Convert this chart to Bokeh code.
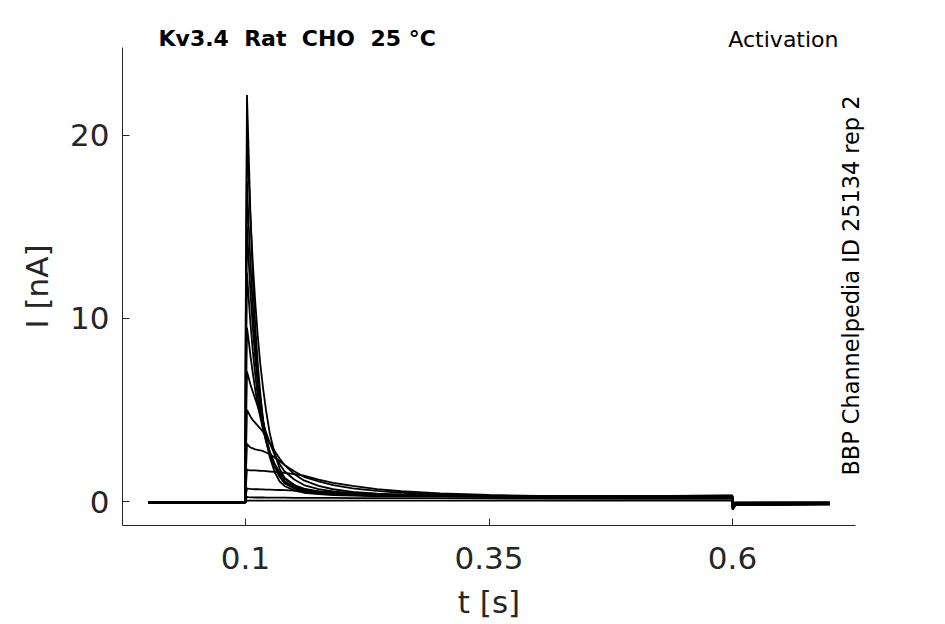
import math
from bokeh.plotting import figure
from bokeh.models import Label, Title
from bokeh.embed import file_html
from bokeh.resources import INLINE

# sample times (s)
T = [0.0, 0.0998, 0.1002, 0.1015, 0.103, 0.105, 0.1075, 0.110, 0.1125, 0.115,
     0.118, 0.121, 0.125, 0.13, 0.135, 0.14, 0.15, 0.16, 0.175, 0.19,
     0.21, 0.235, 0.26, 0.3, 0.35, 0.4, 0.5, 0.5998, 0.6002, 0.603, 0.7]

# current traces (nA)
I_01 = [-0.05, -0.05, 10.0, 22.2, 19.5, 15.8, 12.2, 9.6, 7.6, 6.0, 4.5, 3.4, 2.4, 1.6, 1.1, 0.85, 0.6, 0.48, 0.4, 0.35, 0.32, 0.3, 0.29, 0.28, 0.28, 0.28, 0.3, 0.33, -0.45, -0.2, -0.15]
I_02 = [-0.05, -0.05, 9.0, 20.0, 18.0, 15.6, 13.0, 10.9, 9.1, 7.6, 6.2, 5.0, 3.7, 2.6, 1.8, 1.3, 0.9, 0.65, 0.5, 0.42, 0.36, 0.33, 0.31, 0.3, 0.29, 0.29, 0.3, 0.32, -0.42, -0.2, -0.15]
I_03 = [-0.05, -0.05, 8.0, 17.5, 15.4, 13.1, 10.6, 8.6, 7.0, 5.7, 4.4, 3.45, 2.5, 1.9, 1.35, 1.0, 0.7, 0.55, 0.45, 0.4, 0.35, 0.32, 0.3, 0.29, 0.28, 0.28, 0.29, 0.31, -0.4, -0.2, -0.15]
I_04 = [-0.05, -0.05, 7.0, 15.0, 13.4, 11.5, 9.5, 7.8, 6.4, 5.3, 4.4, 3.6, 2.7, 2.0, 1.45, 1.08, 0.75, 0.58, 0.47, 0.41, 0.36, 0.33, 0.31, 0.29, 0.28, 0.27, 0.28, 0.3, -0.38, -0.18, -0.13]
I_05 = [-0.05, -0.05, 5.5, 12.5, 11.3, 9.8, 8.2, 6.9, 5.8, 4.9, 4.0, 3.3, 2.55, 1.9, 1.45, 1.1, 0.8, 0.62, 0.5, 0.43, 0.37, 0.33, 0.31, 0.29, 0.27, 0.27, 0.27, 0.29, -0.35, -0.17, -0.12]
I_06 = [-0.05, -0.05, 4.0, 9.5, 8.9, 8.0, 7.0, 6.1, 5.3, 4.65, 3.95, 3.35, 2.7, 2.05, 1.6, 1.25, 0.9, 0.7, 0.55, 0.46, 0.39, 0.34, 0.31, 0.29, 0.27, 0.26, 0.26, 0.28, -0.32, -0.15, -0.11]
I_07 = [-0.05, -0.05, 3.0, 7.1, 6.8, 6.4, 6.0, 5.6, 5.2, 4.8, 4.3, 3.8, 3.2, 2.55, 2.05, 1.65, 1.2, 0.9, 0.68, 0.55, 0.45, 0.38, 0.34, 0.3, 0.28, 0.27, 0.26, 0.27, -0.3, -0.14, -0.1]
I_08 = [-0.05, -0.05, 2.0, 5.0, 4.85, 4.65, 4.45, 4.3, 4.15, 4.0, 3.8, 3.55, 3.2, 2.75, 2.35, 2.0, 1.5, 1.15, 0.85, 0.67, 0.53, 0.43, 0.37, 0.32, 0.29, 0.27, 0.26, 0.26, -0.26, -0.12, -0.09]
I_09 = [-0.05, -0.05, 1.3, 3.15, 3.05, 2.95, 2.9, 2.85, 2.82, 2.8, 2.75, 2.68, 2.58, 2.4, 2.2, 2.0, 1.65, 1.35, 1.1, 0.9, 0.72, 0.58, 0.48, 0.39, 0.32, 0.29, 0.26, 0.26, -0.22, -0.1, -0.08]
I_10 = [-0.05, -0.05, 0.7, 1.75, 1.72, 1.7, 1.7, 1.7, 1.69, 1.68, 1.67, 1.66, 1.64, 1.62, 1.6, 1.57, 1.5, 1.42, 1.2, 1.02, 0.85, 0.68, 0.56, 0.44, 0.36, 0.31, 0.27, 0.26, -0.18, -0.08, -0.07]
I_11 = [-0.05, -0.05, 0.3, 0.72, 0.7, 0.69, 0.68, 0.67, 0.67, 0.66, 0.66, 0.65, 0.65, 0.64, 0.63, 0.62, 0.6, 0.58, 0.55, 0.51, 0.47, 0.42, 0.38, 0.33, 0.29, 0.27, 0.25, 0.25, -0.14, -0.07, -0.06]
I_12 = [-0.05, -0.05, 0.1, 0.25, 0.24, 0.23, 0.23, 0.22, 0.22, 0.22, 0.22, 0.21, 0.21, 0.21, 0.21, 0.21, 0.2, 0.2, 0.2, 0.2, 0.19, 0.19, 0.18, 0.18, 0.17, 0.16, 0.15, 0.15, -0.1, -0.06, -0.05]
I_13 = [-0.05, -0.05, 0.0, 0.05, 0.05, 0.05, 0.05, 0.05, 0.05, 0.05, 0.05, 0.05, 0.05, 0.05, 0.05, 0.05, 0.05, 0.05, 0.05, 0.05, 0.05, 0.05, 0.05, 0.05, 0.05, 0.05, 0.05, 0.05, -0.06, -0.05, -0.05]

TRACES = [I_01, I_02, I_03, I_04, I_05, I_06, I_07, I_08, I_09, I_10, I_11, I_12, I_13]

X_TICKS = [0.1, 0.35, 0.6]
X_TICK_LABELS = ["0.1", "0.35", "0.6"]
Y_TICKS = [0, 10, 20]

TITLE = "Kv3.4 \u00a0Rat \u00a0CHO \u00a025 °C"
PROTOCOL = "Activation"
SOURCE = "BBP Channelpedia ID 25134 rep 2"

FONT = "DejaVu Sans"
INK = "#262626"

p = figure(width=945, height=624,
           x_range=(-0.0263, 0.7263), y_range=(-1.31, 24.8),
           output_backend="svg", toolbar_location=None,
           min_border_left=122, min_border_right=90,
           min_border_top=47, min_border_bottom=99)

for tr in TRACES:
    p.line(T, tr, line_color="black", line_width=1.8)

p.grid.visible = False
p.outline_line_color = None
p.background_fill_color = "white"
p.border_fill_color = "white"

for ax in (p.xaxis[0], p.yaxis[0]):
    ax.axis_line_color = INK
    ax.axis_line_width = 1
    ax.major_tick_line_color = INK
    ax.major_tick_in = 7
    ax.major_tick_out = 0
    ax.minor_tick_line_color = None
    ax.major_label_text_font = FONT
    ax.major_label_text_font_size = "31px"
    ax.major_label_text_color = INK
    ax.axis_label_text_font = FONT
    ax.axis_label_text_font_size = "31px"
    ax.axis_label_text_font_style = "normal"
    ax.axis_label_text_color = INK

p.xaxis.ticker = X_TICKS
p.xaxis.major_label_overrides = {t: s for t, s in zip(X_TICKS, X_TICK_LABELS)}
p.yaxis.ticker = Y_TICKS
p.xaxis.axis_label = "t [s]"
p.yaxis.axis_label = "I [nA]"
p.xaxis.major_label_standoff = 21
p.xaxis.axis_label_standoff = 12
p.yaxis.major_label_standoff = 13
p.yaxis.axis_label_standoff = 12

# "Activation" as a title (right aligned), placed closest to the frame
p.add_layout(Title(text=PROTOCOL, align="right", offset=17, standoff=-8,
                   text_font=FONT, text_font_style="normal", text_font_size="22px",
                   text_color="black"), "above")
p.add_layout(Label(x=36, y=-9.6, x_units="screen", y_units="screen", text=TITLE,
                   text_font=FONT, text_font_style="bold", text_font_size="22px",
                   text_align="left", text_baseline="alphabetic", text_color="black"), "above")
p.add_layout(Label(x=-5, y=50, x_units="screen", y_units="screen", text=SOURCE,
                   angle=math.pi / 2, text_font=FONT, text_font_size="22.4px",
                   text_align="left", text_baseline="alphabetic", text_color="black"), "right")

open("out.html", "w").write(file_html(p, INLINE))
